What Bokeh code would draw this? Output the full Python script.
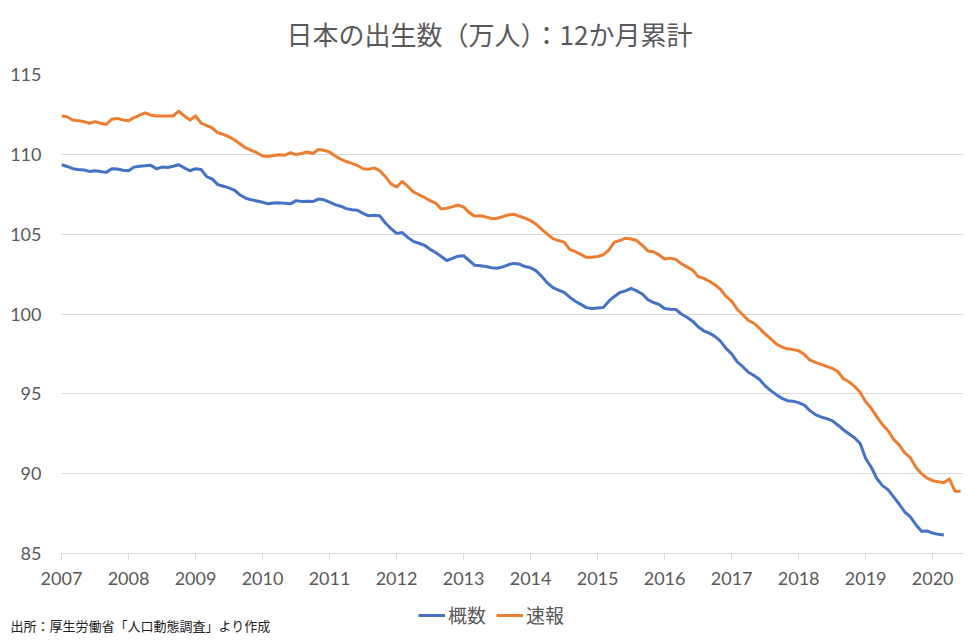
from bokeh.plotting import figure
from bokeh.models import (Legend, LegendItem, FixedTicker, Range1d, Label)
from bokeh.layouts import column
from bokeh.embed import file_html
from bokeh.resources import INLINE

# ---- data (monthly 12-month cumulative births, 10k persons) ----
start_year = 2007
years = list(range(2007, 2021))
year_labels = [str(y) for y in years]

sokuho = [  # 速報 2007-01 .. 2020-06
    112.4, 112.35, 112.15, 112.1, 112.05, 111.95, 112.05, 111.95, 111.87, 112.2, 112.25, 112.15,
    112.1, 112.3, 112.45, 112.6, 112.45, 112.4, 112.4, 112.4, 112.4, 112.7, 112.4, 112.15,
    112.4, 111.95, 111.8, 111.65, 111.35, 111.25, 111.1, 110.9, 110.65, 110.4, 110.25, 110.1,
    109.9, 109.87, 109.93, 109.98, 109.95, 110.1, 109.98, 110.05, 110.15, 110.05, 110.3, 110.25,
    110.15, 109.9, 109.7, 109.55, 109.43, 109.3, 109.1, 109.07, 109.15, 108.97, 108.6, 108.15,
    107.95, 108.3, 108.0, 107.65, 107.47, 107.3, 107.1, 106.95, 106.58, 106.63, 106.72, 106.82,
    106.7, 106.35, 106.13, 106.15, 106.08, 105.97, 106.0, 106.1, 106.2, 106.25, 106.12, 106.0,
    105.85, 105.62, 105.3, 105.0, 104.72, 104.6, 104.5, 104.05, 103.9, 103.73, 103.55, 103.56,
    103.6, 103.7, 104.0, 104.5, 104.6, 104.75, 104.7, 104.6, 104.3, 103.95, 103.9, 103.7,
    103.45, 103.5, 103.42, 103.15, 102.95, 102.75, 102.35, 102.23, 102.05, 101.83, 101.55, 101.1,
    100.8, 100.3, 99.95, 99.6, 99.42, 99.1, 98.75, 98.45, 98.13, 97.93, 97.82, 97.77,
    97.7, 97.47, 97.12, 96.97, 96.84, 96.72, 96.6, 96.4, 95.95, 95.76, 95.47, 95.1,
    94.5, 94.1, 93.56, 93.07, 92.7, 92.15, 91.8, 91.3, 91.0, 90.4, 90.0, 89.72,
    89.56, 89.5, 89.43, 89.66, 88.9, 88.9,
]

gaisu = [  # 概数 2007-01 .. 2020-03
    109.35, 109.24, 109.1, 109.05, 109.02, 108.93, 108.97, 108.93, 108.87, 109.1, 109.08, 109.0,
    108.97, 109.2, 109.26, 109.28, 109.31, 109.1, 109.2, 109.17, 109.25, 109.35, 109.15, 108.97,
    109.1, 109.05, 108.6, 108.45, 108.1, 108.0, 107.9, 107.75, 107.45, 107.25, 107.15, 107.08,
    107.0, 106.9, 106.95, 106.96, 106.93, 106.9, 107.1, 107.05, 107.06, 107.04, 107.2, 107.15,
    107.0, 106.85, 106.75, 106.6, 106.53, 106.5, 106.3, 106.15, 106.18, 106.15, 105.7, 105.35,
    105.05, 105.1, 104.8, 104.55, 104.43, 104.3, 104.05, 103.85, 103.6, 103.35, 103.48, 103.62,
    103.65, 103.35, 103.05, 103.02, 102.98, 102.9, 102.87, 102.95, 103.08, 103.17, 103.13, 102.97,
    102.9, 102.7, 102.35, 101.95, 101.65, 101.5, 101.35, 101.05, 100.8, 100.6, 100.4, 100.34,
    100.38, 100.4, 100.8, 101.1, 101.35, 101.45, 101.6, 101.45, 101.25, 100.9, 100.72, 100.6,
    100.35, 100.3, 100.28, 100.0, 99.8, 99.55, 99.2, 98.95, 98.8, 98.6, 98.3, 97.85,
    97.5, 97.0, 96.7, 96.35, 96.15, 95.9, 95.5, 95.2, 94.95, 94.72, 94.57, 94.54,
    94.45, 94.3, 93.95, 93.7, 93.55, 93.45, 93.32, 93.05, 92.75, 92.5, 92.25, 91.9,
    90.95, 90.4, 89.7, 89.25, 89.0, 88.55, 88.1, 87.6, 87.3, 86.8, 86.4, 86.41,
    86.28, 86.2, 86.16,
]

y_ticks = [85, 90, 95, 100, 105, 110, 115]

x_sokuho = [start_year + k / 12 for k in range(len(sokuho))]
x_gaisu = [start_year + k / 12 for k in range(len(gaisu))]

GRAY = "#595959"
GRID = "#d9d9d9"
BLUE = "#4472C4"
ORANGE = "#ED7D31"
JP = "Noto Sans CJK JP"


def strip(height):
    s = figure(width=978, height=height, output_backend="svg", toolbar_location=None,
               x_axis_location=None, y_axis_location=None,
               x_range=Range1d(0, 1), y_range=Range1d(0, 1),
               min_border_left=0, min_border_right=0, min_border_top=0, min_border_bottom=0)
    s.frame_align = False
    s.grid.grid_line_color = None
    s.outline_line_color = None
    s.background_fill_color = "white"
    s.border_fill_color = "white"
    return s


# ---------------- header strip: title ----------------
h = strip(60)
h.add_layout(Label(x=489, y=27, x_units="screen", y_units="screen",
                   text="日本の出生数（万人）：12か月累計",
                   text_font=JP, text_font_size="26px", text_color=GRAY,
                   text_align="center", text_baseline="middle"))

# ---------------- main chart ----------------
p = figure(width=978, height=540, output_backend="svg", toolbar_location=None,
           x_range=Range1d(2007, 2020.46), y_range=Range1d(85, 115),
           min_border_left=61, min_border_right=15, min_border_top=14, min_border_bottom=47)
p.frame_align = False
p.outline_line_color = None
p.background_fill_color = "white"
p.border_fill_color = "white"

r_g = p.line(x_gaisu, gaisu, line_color=BLUE, line_width=3, line_join="round")
r_s = p.line(x_sokuho, sokuho, line_color=ORANGE, line_width=3, line_join="round")

p.xaxis.ticker = FixedTicker(ticks=years)
p.xaxis.major_label_overrides = {y: s for y, s in zip(years, year_labels)}
p.xaxis.axis_line_color = GRID
p.xaxis.major_tick_line_color = GRID
p.xaxis.major_tick_out = 7
p.xaxis.major_tick_in = 0
p.xaxis.minor_tick_line_color = None
p.xaxis.major_label_standoff = 11
p.xaxis.major_label_text_font = "Lato"
p.xaxis.major_label_text_font_size = "18px"
p.xaxis.major_label_text_color = GRAY

p.yaxis.ticker = FixedTicker(ticks=y_ticks)
p.yaxis.axis_line_color = None
p.yaxis.major_tick_line_color = None
p.yaxis.major_tick_out = 0
p.yaxis.major_tick_in = 0
p.yaxis.minor_tick_line_color = None
p.yaxis.major_label_standoff = 20
p.yaxis.major_label_text_font = "Lato"
p.yaxis.major_label_text_font_size = "18px"
p.yaxis.major_label_text_color = GRAY

p.xgrid.grid_line_color = None
p.ygrid.ticker = FixedTicker(ticks=y_ticks)
p.ygrid.grid_line_color = GRID
p.ygrid.grid_line_width = 1

# ---------------- footer strip: legend + source note ----------------
f = strip(40)
# same series (outside this strip's view) so the legend keys use their styles
lg = f.line(x_gaisu, gaisu, line_color=BLUE, line_width=3)
ls = f.line(x_sokuho, sokuho, line_color=ORANGE, line_width=3)

legend = Legend(items=[LegendItem(label="概数", renderers=[lg]),
                       LegendItem(label="速報", renderers=[ls])],
                orientation="horizontal", location=(418, 12),
                padding=0, margin=0, spacing=10, label_standoff=3,
                glyph_width=27, glyph_height=24, label_height=24,
                label_text_font=JP, label_text_font_size="19px",
                label_text_color=GRAY, border_line_color=None,
                background_fill_alpha=0)
f.add_layout(legend, "center")

f.add_layout(Label(x=10, y=15, x_units="screen", y_units="screen",
                   text="出所：厚生労働省「人口動態調査」より作成",
                   text_font=JP, text_font_size="13px", text_color="#222222",
                   text_baseline="middle", text_align="left"))

layout = column(h, p, f, spacing=0)
open("out.html", "w").write(file_html(layout, INLINE))
